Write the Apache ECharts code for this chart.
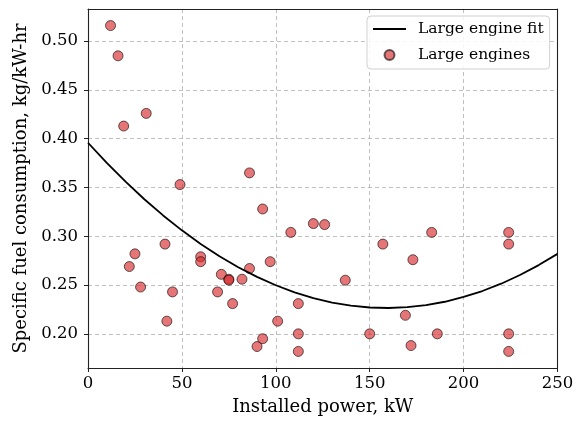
<!DOCTYPE html>
<html><head><meta charset="utf-8">
<script src="https://cdn.jsdelivr.net/npm/echarts@6/dist/echarts.min.js"></script>
<style>html,body{margin:0;padding:0;background:#fff}#c{width:577px;height:421px}</style>
</head><body><div id="c"></div>
<script>
// Scatter data: installed power (kW) and specific fuel consumption (kg/kW-hr)
const powerKW = [12,16,19,31,86,49,93,108,120,126,41,25,22,60,60,97,86,71,75,75,82,28,45,69,77,112,42,101,112,93,90,112,183,224,157,224,173,137,169,150,186,172,224,224];
const sfc = [0.516,0.485,0.413,0.426,0.365,0.353,0.328,0.304,0.313,0.312,0.292,0.282,0.269,0.279,0.274,0.274,0.267,0.261,0.256,0.255,0.256,0.248,0.243,0.243,0.231,0.231,0.213,0.213,0.200,0.195,0.187,0.182,0.304,0.304,0.292,0.292,0.276,0.255,0.219,0.200,0.200,0.188,0.200,0.182];
// Fit curve values
const fitX = [0,10,20,30,40,50,60,70,80,90,100,110,120,130,140,150,160,170,180,190,200,210,220,230,240,250];
const fitY = [0.3959,0.3752,0.3560,0.3380,0.3214,0.3061,0.2922,0.2796,0.2683,0.2584,0.2498,0.2426,0.2367,0.2321,0.2289,0.2270,0.2265,0.2273,0.2295,0.2329,0.2378,0.2439,0.2514,0.2603,0.2705,0.2820];
const yTicks = [0.20,0.25,0.30,0.35,0.40,0.45,0.50];

const FONT = 'DejaVu Serif';
const chart = echarts.init(document.getElementById('c'), null, {renderer:'canvas'});
const gridLine = {show:true, lineStyle:{color:'#b0b0b0', type:[4,3], width:0.8}};
const spine = {show:true, onZero:false, lineStyle:{color:'#222', width:1.1}};
chart.setOption({
  animation:false,
  backgroundColor:'#fff',
  textStyle:{fontFamily:FONT},
  grid:{left:88, right:19.5, top:9, bottom:51},
  xAxis:[{type:'value', min:0, max:250, interval:50,
    name:'Installed power, kW', nameLocation:'middle', nameGap:30,
    nameTextStyle:{fontFamily:FONT, fontSize:18, color:'#000'},
    axisLine:spine,
    axisTick:{show:true, length:4, lineStyle:{color:'#222'}},
    axisLabel:{fontFamily:FONT, fontSize:16.5, color:'#000', margin:7},
    splitLine:gridLine},
    {type:'value', position:'top', min:0, max:250, interval:50, axisLine:spine,
     axisTick:{show:false}, axisLabel:{show:false}, splitLine:{show:false}}],
  yAxis:[{type:'value', min:0.165, max:0.533,
    name:'Specific fuel consumption, kg/kW-hr', nameLocation:'middle', nameGap:54,
    nameTextStyle:{fontFamily:FONT, fontSize:18, color:'#000'},
    axisLine:spine,
    axisTick:{show:true, length:4, lineStyle:{color:'#222'}, customValues:yTicks},
    axisLabel:{fontFamily:FONT, fontSize:16.5, color:'#000', margin:10, customValues:yTicks,
      formatter:v=>v.toFixed(2)},
    splitLine:gridLine},
    {type:'value', position:'right', min:0.165, max:0.533, axisLine:spine,
     axisTick:{show:false}, axisLabel:{show:false}, splitLine:{show:false}}],
  legend:{left:367, top:16, orient:'vertical', itemGap:8, itemWidth:33, itemHeight:10,
    padding:[4,6,5,6], borderColor:'#d0d0d0', borderWidth:1, borderRadius:4, backgroundColor:'rgba(255,255,255,0.85)',
    textStyle:{fontFamily:FONT, fontSize:15.5, color:'#000', lineHeight:18, padding:[0,0,0,7]},
    data:[{name:'Large engine fit', icon:'path://M0,0H33V2H0Z'}, {name:'Large engines'}]},
  series:[
    {name:'Large engine fit', type:'line', smooth:false, symbol:'none', z:3,
      lineStyle:{color:'#000', width:1.8}, itemStyle:{color:'#000'},
      data:fitX.map((x,i)=>[x,fitY[i]])},
    {name:'Large engines', type:'scatter', symbolSize:10, z:2,
      itemStyle:{color:'rgba(214,39,40,0.8)', borderColor:'rgba(0,0,0,0.75)', borderWidth:1},
      data:powerKW.map((x,i)=>[x,sfc[i]])}
  ]
});
</script></body></html>
